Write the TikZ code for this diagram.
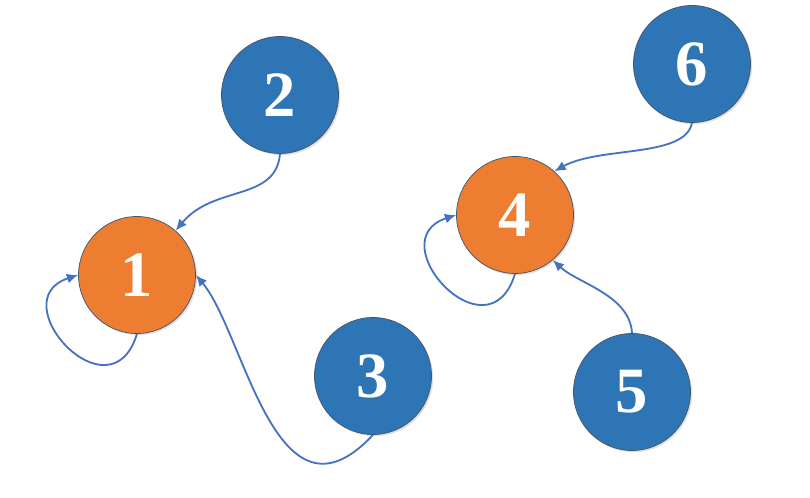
\documentclass[tikz,border=0pt]{standalone}
\usepackage{fontspec}
\setmainfont{Liberation Serif}
\usetikzlibrary{arrows.meta, shadows}
\definecolor{nodeblue}{HTML}{2E75B6}
\definecolor{nodeorange}{HTML}{ED7D31}
\definecolor{linkblue}{HTML}{4472C4}
\definecolor{rimgray}{HTML}{41546B}

\begin{document}
\begin{tikzpicture}[
    vertex/.style={circle, minimum size=2.925cm, inner sep=0pt,
      draw=rimgray, line width=0.5pt, text=white,
      font=\fontsize{46}{50}\selectfont\bfseries,
      drop shadow={shadow xshift=1.2pt, shadow yshift=-1.2pt, opacity=0.25}},
    leaf/.style={vertex, fill=nodeblue},
    root/.style={vertex, fill=nodeorange},
    link/.style={draw=linkblue, line width=1.3pt,
      -{Latex[length=8pt, width=7pt]}}]
  \useasboundingbox (0,0) rectangle (20.25,12.45);

  \node[root] (n1) at (3.425,5.575) {1};
  \node[leaf] (n2) at (7.0,10.075) {2};
  \node[leaf] (n3) at (9.325,3.05) {3};
  \node[root] (n4) at (12.875,7.075) {4};
  \node[leaf] (n5) at (15.8,2.65) {5};
  \node[leaf] (n6) at (17.3,10.85) {6};

  \draw[link] (n1.south) .. controls +(-107:2.28) and +(-162:2.05) .. (n1.west);
  \draw[link] (n2.south) .. controls +(-95:1.2) and +(50:1.5) .. (n1.49);
  \draw[link] (n3.south) .. controls +(-133:3.55) and +(-50:1.9) .. (n1.east);

  \draw[link] (n4.south) .. controls +(-107:2.28) and +(-162:2.05) .. (n4.west);
  \draw[link] (n6.south) .. controls +(-101:0.9) and +(29:1.3) .. (n4.48);
  \draw[link] (n5.north) .. controls +(93:0.95) and +(-43:0.85) .. (n4.-50);
\end{tikzpicture}
\end{document}
